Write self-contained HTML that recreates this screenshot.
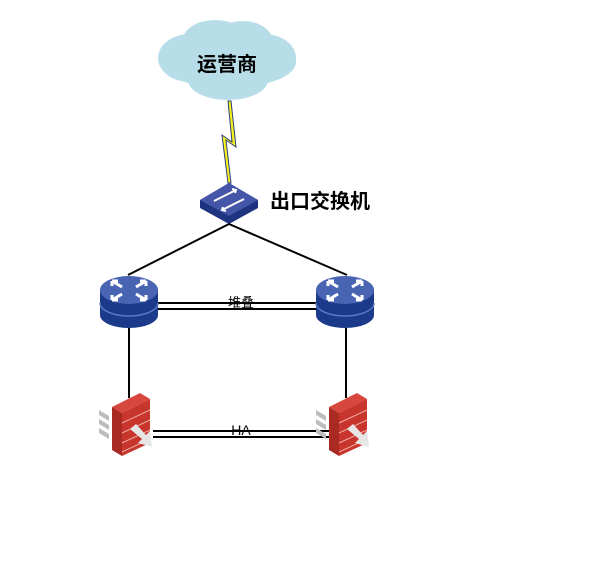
<!DOCTYPE html>
<html><head><meta charset="utf-8"><style>
html,body{margin:0;padding:0;background:#fff;width:611px;height:563px;overflow:hidden}
text{font-family:"Liberation Sans","Noto Sans CJK SC",sans-serif}
</style></head><body>
<svg width="611" height="563" viewBox="0 0 611 563" xmlns="http://www.w3.org/2000/svg">
<defs>
<g id="router">
  <path d="M0,15 L0,40 A29,13 0 0 0 58,40 L58,15 Z" fill="#1b3a8a"/>
  <path d="M0,28 A29,13 0 0 0 58,28" fill="none" stroke="#5a78c8" stroke-width="1.5"/>
  <ellipse cx="29" cy="15" rx="29" ry="14" fill="#4a64b4"/>
  <g stroke="#fff" stroke-width="3" fill="none">
    <path d="M12,6 L22,12 M12,6 L12,11 M12,6 L18,6"/>
    <path d="M46,6 L36,12 M46,6 L46,11 M46,6 L40,6"/>
    <path d="M12,25 L22,19 M12,25 L12,20 M12,25 L18,25"/>
    <path d="M46,25 L36,19 M46,25 L46,20 M46,25 L40,25"/>
  </g>
</g>
<g id="fw">
  <path d="M2,14 L30,0 L40,6 L12,20 Z" fill="#d8473d"/>
  <path d="M2,14 L12,20 L12,63 L2,57 Z" fill="#a82a22"/>
  <path d="M12,20 L40,6 L40,50 L12,63 Z" fill="#c8352c"/>
  <g stroke="#f0a8a0" stroke-width="1">
    <path d="M12,30 L40,17 M12,40 L40,27 M12,50 L40,37 M12,59 L40,46"/>
  </g>
  <path d="M20,36 L26,31 L36,42 L40,38 L42,54 L28,50 L32,46 Z" fill="#e6e6e6"/>
</g>
</defs>

<!-- cloud -->
<g fill="#b7dde8">
  <ellipse cx="228" cy="62" rx="68" ry="26"/>
  <ellipse cx="190" cy="58" rx="32" ry="24"/>
  <ellipse cx="264" cy="58" rx="32" ry="24"/>
  <ellipse cx="215" cy="40" rx="32" ry="20"/>
  <ellipse cx="243" cy="42" rx="30" ry="21"/>
  <ellipse cx="228" cy="80" rx="40" ry="20"/>
</g>
<text x="227" y="71" font-size="20" font-weight="bold" text-anchor="middle" fill="#000">运营商</text>

<!-- lightning -->
<polygon points="228,101 231,101 236,147 226,140 231,183 228,183 222,135 232,142" fill="#f5f01e" stroke="#2a3f7a" stroke-width="1"/>

<!-- switch -->
<path d="M200,200 L229,183 L258,200 L258,208 L229,224 L200,208 Z" fill="#1e3480"/>
<path d="M200,200 L229,183 L258,200 L229,216 Z" fill="#4556a8"/>
<g stroke="#fff" stroke-width="2" fill="none">
  <path d="M214,201 L236,190 M232,189 L236,190 L235,193"/>
  <path d="M244,199 L222,210 M226,211 L222,210 L223,207"/>
</g>
<text x="270" y="208" font-size="20" font-weight="bold" fill="#000">出口交换机</text>

<!-- lines -->
<g stroke="#000" stroke-width="2" fill="none">
  <line x1="229" y1="224" x2="128" y2="275"/>
  <line x1="229" y1="224" x2="347" y2="275"/>
  <line x1="158" y1="303" x2="316" y2="303"/>
  <line x1="158" y1="309" x2="316" y2="309"/>
  <line x1="129" y1="328" x2="129" y2="398"/>
  <line x1="346" y1="328" x2="346" y2="398"/>
  <line x1="153" y1="431" x2="329" y2="431"/>
  <line x1="153" y1="437" x2="329" y2="437"/>
</g>
<text x="241" y="307" font-size="13" text-anchor="middle" fill="#000">堆叠</text>
<rect x="229" y="424" width="24" height="6" fill="#fff"/>
<text x="241" y="435" font-size="14" text-anchor="middle" fill="#000">HA</text>

<use href="#router" x="100" y="275"/>
<use href="#router" x="316" y="275"/>

<!-- gray chevrons -->
<g fill="#bdbdbd">
  <path d="M99,410 L109,416 L109,421 L99,415 Z M99,419 L109,425 L109,430 L99,424 Z M99,428 L109,434 L109,439 L99,433 Z"/>
  <path d="M316,410 L326,416 L326,421 L316,415 Z M316,419 L326,425 L326,430 L316,424 Z M316,428 L326,434 L326,439 L316,433 Z"/>
</g>
<use href="#fw" x="110" y="393"/>
<use href="#fw" x="327" y="393"/>
</svg>
</body></html>
